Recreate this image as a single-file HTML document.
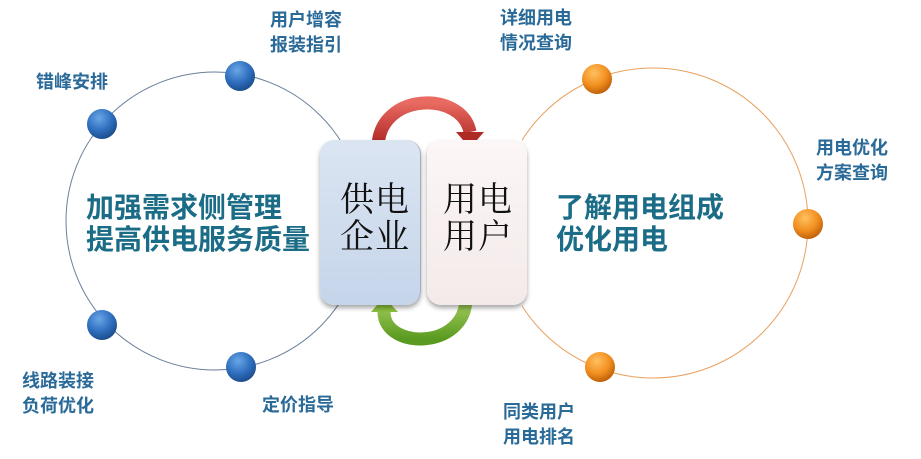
<!DOCTYPE html>
<html><head><meta charset="utf-8"><style>
html,body{margin:0;padding:0;background:#fff;}
body{width:921px;height:459px;position:relative;overflow:hidden;font-family:"Liberation Sans","Noto Sans CJK SC",sans-serif;}
.l{position:absolute;color:#2a6a98;font-size:18px;font-weight:bold;line-height:25px;white-space:nowrap;}
.big{position:absolute;color:#1b6c86;font-size:28px;font-weight:bold;line-height:32px;white-space:nowrap;}
.box{position:absolute;top:140px;height:165px;width:100px;border-radius:14px;box-shadow:0 3px 5px rgba(0,0,0,0.35);}
.bt{position:absolute;font-family:"Liberation Serif","Noto Serif CJK SC",serif;font-size:34px;line-height:37px;color:#111;letter-spacing:1px;}
</style></head><body>
<svg width="921" height="459" style="position:absolute;left:0;top:0">
<defs>
<radialGradient id="gb" cx="40%" cy="30%" r="70%"><stop offset="0" stop-color="#6aa6e6"/><stop offset="0.6" stop-color="#2f6fbf"/><stop offset="1" stop-color="#1d4e8e"/></radialGradient>
<radialGradient id="go" cx="40%" cy="30%" r="70%"><stop offset="0" stop-color="#ffc060"/><stop offset="0.6" stop-color="#f29020"/><stop offset="1" stop-color="#c0620a"/></radialGradient>
<linearGradient id="gr" x1="0" y1="0" x2="0" y2="1"><stop offset="0" stop-color="#e86a60"/><stop offset="1" stop-color="#a82020"/></linearGradient>
<linearGradient id="gg" x1="0" y1="0" x2="0" y2="1"><stop offset="0" stop-color="#a8d060"/><stop offset="1" stop-color="#5a9a20"/></linearGradient>
</defs>
<circle cx="215" cy="221" r="149" fill="none" stroke="#6a7f9a" stroke-width="1"/>
<circle cx="653" cy="223" r="155" fill="none" stroke="#e8a060" stroke-width="1"/>
<rect x="350" y="128" width="172" height="192" fill="#fff"/>
<path d="M378,148 C378,92 462,90 470,132" fill="none" stroke="url(#gr)" stroke-width="13"/>
<polygon points="456,132 484,132 470,148" fill="#b02a25"/>
<path d="M466,298 C466,350 384,350 384,312" fill="none" stroke="url(#gg)" stroke-width="13"/>
<polygon points="371,312 398,312 384,297" fill="#8cc040"/>
<circle cx="240" cy="76" r="15" fill="url(#gb)"/>
<circle cx="102" cy="124" r="15" fill="url(#gb)"/>
<circle cx="102" cy="325" r="15" fill="url(#gb)"/>
<circle cx="241" cy="367" r="15" fill="url(#gb)"/>
<circle cx="597" cy="79" r="15" fill="url(#go)"/>
<circle cx="808" cy="224" r="15" fill="url(#go)"/>
<circle cx="600" cy="367" r="15" fill="url(#go)"/>
</svg>
<div class="box" style="left:320px;background:linear-gradient(#dbe5f2,#c5d5ea);border-right:1px solid #aab;"></div>
<div class="box" style="left:427px;background:linear-gradient(#fcf6f6,#f4eaea);"></div>
<div class="bt" style="left:340px;top:182px;">供电<br>企业</div>
<div class="bt" style="left:443px;top:182px;">用电<br>用户</div>
<div class="big" style="left:86px;top:192px;">加强需求侧管理<br>提高供电服务质量</div>
<div class="big" style="left:556px;top:192px;">了解用电组成<br>优化用电</div>
<div class="l" style="left:270px;top:8px;">用户增容<br>报装指引</div>
<div class="l" style="left:36px;top:70px;">错峰安排</div>
<div class="l" style="left:22px;top:369px;">线路装接<br>负荷优化</div>
<div class="l" style="left:262px;top:393px;">定价指导</div>
<div class="l" style="left:500px;top:6px;">详细用电<br>情况查询</div>
<div class="l" style="left:816px;top:136px;">用电优化<br>方案查询</div>
<div class="l" style="left:503px;top:400px;">同类用户<br>用电排名</div>
</body></html>
